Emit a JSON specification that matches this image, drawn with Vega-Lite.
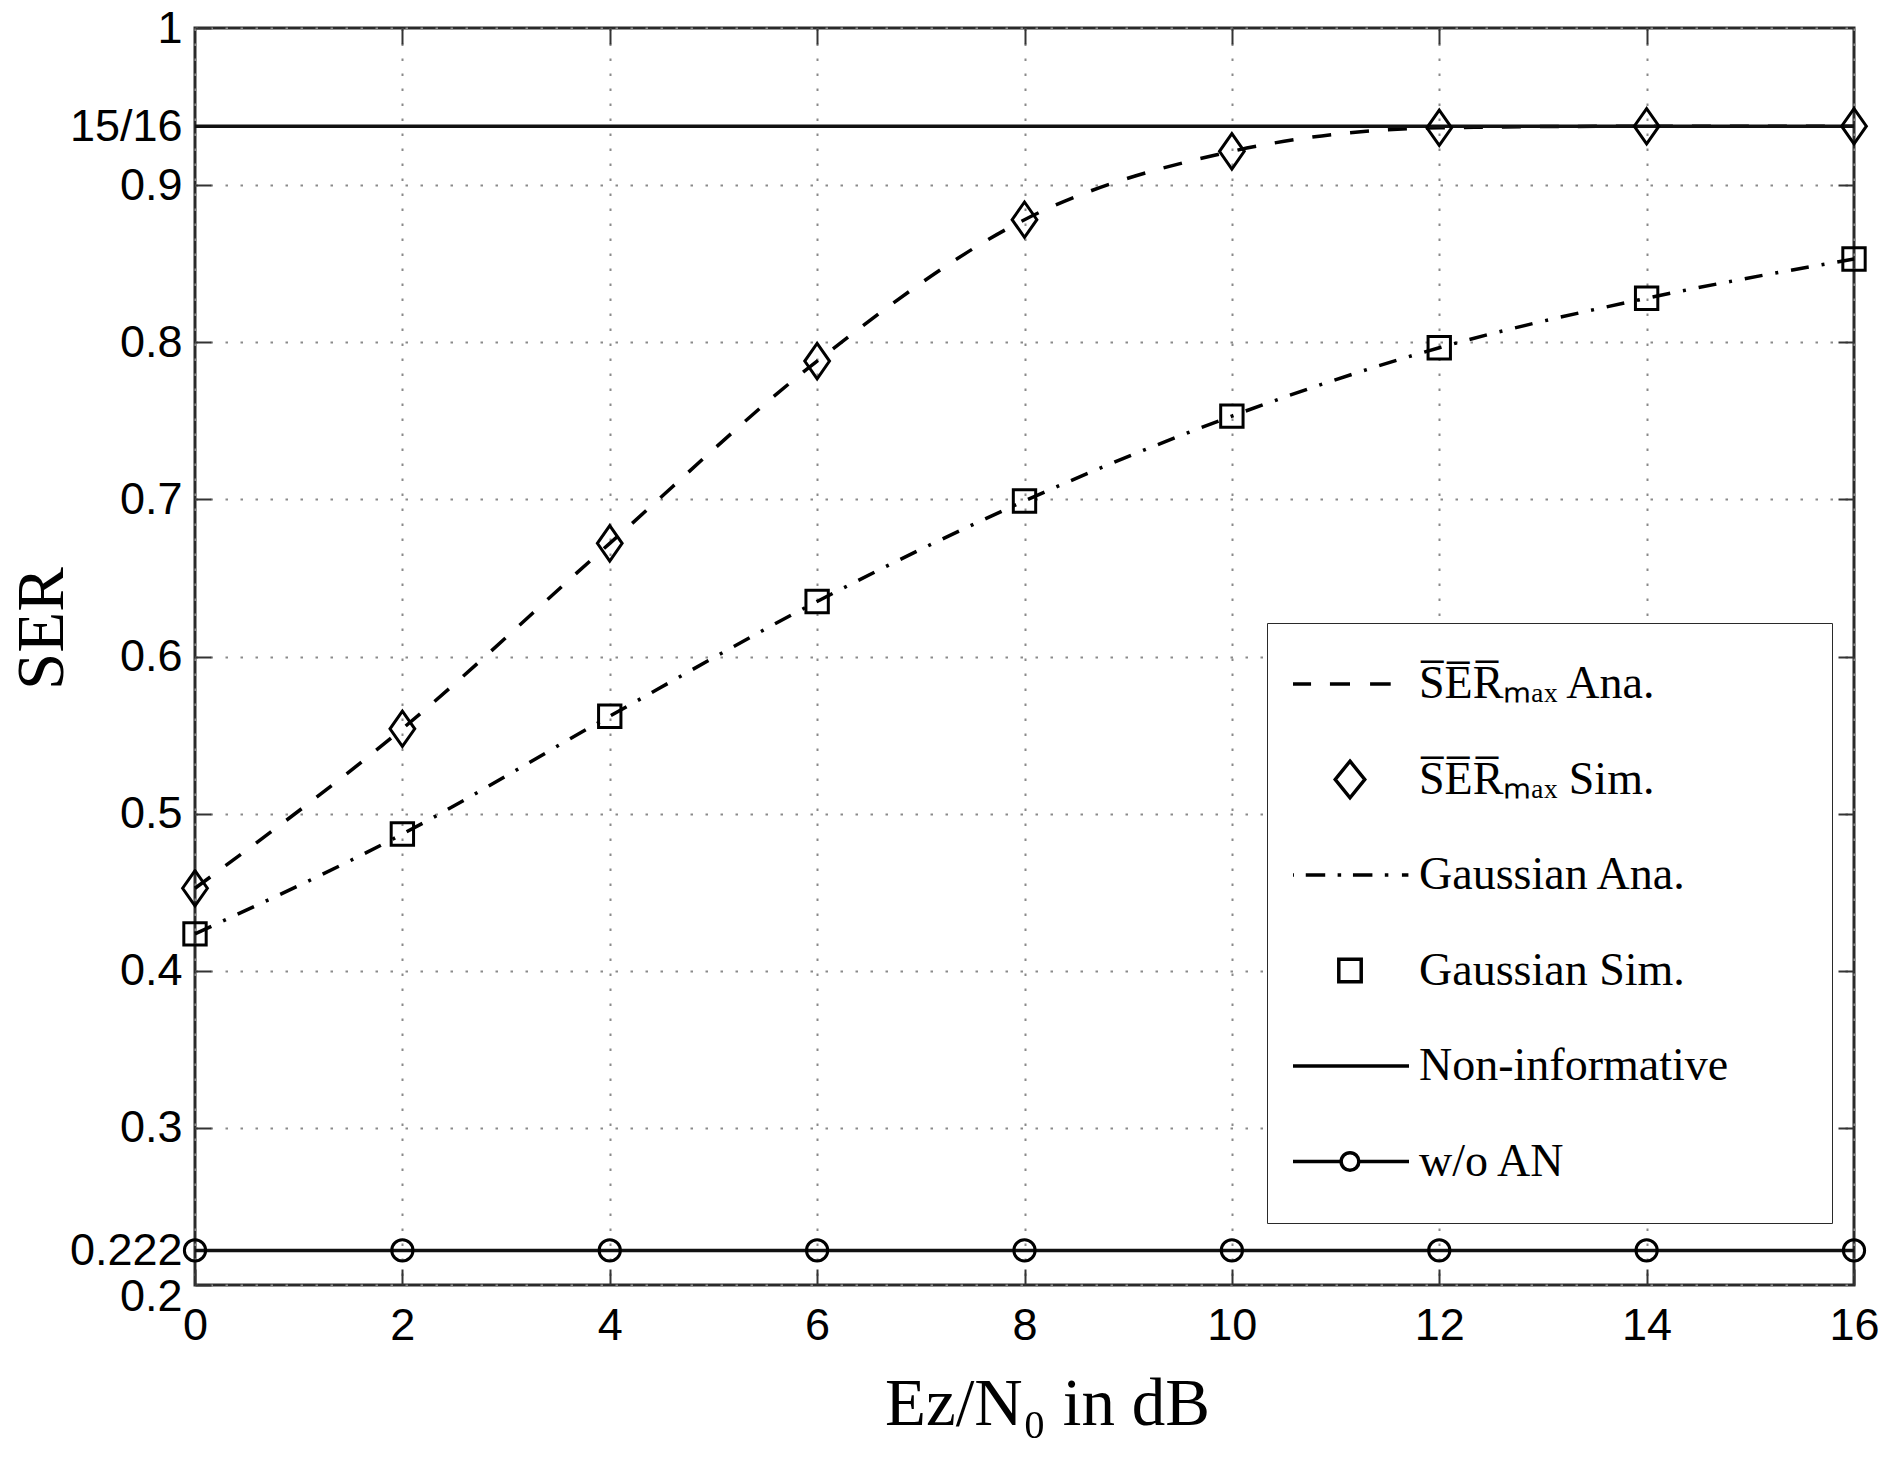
{
  "$schema": "https://vega.github.io/schema/vega-lite/v6.json",
  "width": 1659,
  "height": 1257,
  "autosize": "none",
  "padding": {"left": 195, "top": 28, "right": 29, "bottom": 188},
  "background": "white",
  "config": {
    "view": {"stroke": "#2a2a2a", "strokeWidth": 3},
    "axis": {
      "domain": false,
      "labelFont": "Liberation Sans",
      "labelFontSize": 45,
      "labelColor": "black",
      "labelFlush": false,
      "labelOverlap": false,
      "tickSize": -16,
      "tickColor": "#333333",
      "tickWidth": 2,
      "gridColor": "#8a8a8a",
      "gridDash": [2.5, 12.5],
      "gridWidth": 2,
      "titleFont": "Liberation Serif",
      "titleFontSize": 67,
      "titleFontWeight": "normal",
      "titleColor": "black"
    }
  },
  "datasets": {
    "ser": [
      {"snr": 0, "ser": 0.4525},
      {"snr": 2, "ser": 0.554},
      {"snr": 4, "ser": 0.672},
      {"snr": 6, "ser": 0.788},
      {"snr": 8, "ser": 0.878},
      {"snr": 10, "ser": 0.9215},
      {"snr": 12, "ser": 0.9365},
      {"snr": 14, "ser": 0.9375},
      {"snr": 16, "ser": 0.9375}
    ],
    "gauss": [
      {"snr": 0, "ser": 0.4235},
      {"snr": 2, "ser": 0.487},
      {"snr": 4, "ser": 0.562},
      {"snr": 6, "ser": 0.635},
      {"snr": 8, "ser": 0.699},
      {"snr": 10, "ser": 0.753},
      {"snr": 12, "ser": 0.7965},
      {"snr": 14, "ser": 0.828},
      {"snr": 16, "ser": 0.853}
    ],
    "noninf": [
      {"snr": 0, "ser": 0.9375},
      {"snr": 16, "ser": 0.9375}
    ],
    "woan": [
      {"snr": 0, "ser": 0.222},
      {"snr": 2, "ser": 0.222},
      {"snr": 4, "ser": 0.222},
      {"snr": 6, "ser": 0.222},
      {"snr": 8, "ser": 0.222},
      {"snr": 10, "ser": 0.222},
      {"snr": 12, "ser": 0.222},
      {"snr": 14, "ser": 0.222},
      {"snr": 16, "ser": 0.222}
    ],
    "legend": [
      {"label": "S\u0305E\u0305R\u0305\u2098\u2090\u2093 Ana."},
      {"label": "S\u0305E\u0305R\u0305\u2098\u2090\u2093 Sim."},
      {"label": "Gaussian Ana."},
      {"label": "Gaussian Sim."},
      {"label": "Non-informative"},
      {"label": "w/o AN"}
    ]
  },
  "resolve": {"axis": {"x": "independent", "y": "independent"}},
  "layer": [
    {
      "data": {"name": "ser"},
      "mark": {"type": "line", "color": "black", "strokeWidth": 3.5, "strokeDash": [19, 19], "interpolate": "monotone"},
      "encoding": {
        "x": {
          "field": "snr", "type": "quantitative",
          "scale": {"domain": [0, 16], "nice": false, "zero": false},
          "axis": {
            "orient": "bottom",
            "values": [0, 2, 4, 6, 8, 10, 12, 14, 16],
            "format": "d",
            "grid": true,
            "labelPadding": 34,
            "title": "Ez/N\u2080 in dB",
            "titleX": 852,
            "titleY": 139,
            "titleBaseline": "alphabetic",
            "titleAlign": "center"
          }
        },
        "y": {
          "field": "ser", "type": "quantitative",
          "scale": {"domain": [0.2, 1], "nice": false, "zero": false},
          "axis": {
            "orient": "left",
            "values": [0.2, 0.222, 0.3, 0.4, 0.5, 0.6, 0.7, 0.8, 0.9, 0.9375, 1],
            "labelExpr": "datum.value == 0.9375 ? '15/16' : (datum.value == 0.222 ? '0.222' : format(datum.value, '.1~f'))",
            "grid": true,
            "labelPadding": 29,
            "labelOffset": {"condition": {"test": "datum.value < 0.21", "value": 11}, "value": 0},
            "title": "SER",
            "titleX": -133,
            "titleY": 600,
            "titleAngle": -90,
            "titleBaseline": "alphabetic",
            "titleAlign": "center"
          }
        }
      }
    },
    {
      "data": {"name": "gauss"},
      "mark": {"type": "line", "color": "black", "strokeWidth": 3.5, "strokeDash": [18, 13, 3, 13], "interpolate": "monotone"},
      "encoding": {
        "x": {
          "field": "snr", "type": "quantitative",
          "axis": {"orient": "top", "values": [2, 4, 6, 8, 10, 12, 14], "labels": false, "title": null, "grid": false}
        },
        "y": {
          "field": "ser", "type": "quantitative",
          "axis": {"orient": "right", "values": [0.3, 0.4, 0.5, 0.6, 0.7, 0.8, 0.9], "labels": false, "title": null, "grid": false}
        }
      }
    },
    {
      "data": {"name": "noninf"},
      "mark": {"type": "line", "color": "#111111", "strokeWidth": 3.5},
      "encoding": {
        "x": {"field": "snr", "type": "quantitative", "axis": null},
        "y": {"field": "ser", "type": "quantitative", "axis": null}
      }
    },
    {
      "data": {"name": "woan"},
      "mark": {"type": "line", "color": "#111111", "strokeWidth": 3.5},
      "encoding": {
        "x": {"field": "snr", "type": "quantitative", "axis": null},
        "y": {"field": "ser", "type": "quantitative", "axis": null}
      }
    },
    {
      "data": {"name": "woan"},
      "mark": {"type": "point", "shape": "circle", "size": 450, "filled": false, "color": "black", "strokeWidth": 3, "opacity": 1},
      "encoding": {
        "x": {"field": "snr", "type": "quantitative", "axis": null},
        "y": {"field": "ser", "type": "quantitative", "axis": null}
      }
    },
    {
      "data": {"name": "ser"},
      "mark": {"type": "point", "shape": "M0,-1L0.7,0L0,1L-0.7,0Z", "size": 1250, "filled": false, "color": "black", "strokeWidth": 3, "opacity": 1},
      "encoding": {
        "x": {"field": "snr", "type": "quantitative", "axis": null},
        "y": {"field": "ser", "type": "quantitative", "axis": null}
      }
    },
    {
      "data": {"name": "gauss"},
      "mark": {"type": "point", "shape": "square", "size": 500, "filled": false, "color": "black", "strokeWidth": 3, "opacity": 1},
      "encoding": {
        "x": {"field": "snr", "type": "quantitative", "axis": null},
        "y": {"field": "ser", "type": "quantitative", "axis": null}
      }
    },
    {
      "data": {"name": "legend"},
      "mark": {"type": "point", "filled": false, "color": "black", "strokeWidth": 3.5, "opacity": 0},
      "encoding": {
        "shape": {
          "field": "label", "type": "nominal",
          "scale": {
            "domain": [
              "S\u0305E\u0305R\u0305\u2098\u2090\u2093 Ana.",
              "S\u0305E\u0305R\u0305\u2098\u2090\u2093 Sim.",
              "Gaussian Ana.",
              "Gaussian Sim.",
              "Non-informative",
              "w/o AN"
            ],
            "range": [
              "M-1,0H-0.66M-0.34,0H0M0.34,0H0.69",
              "M0,-0.31L0.25,0L0,0.31L-0.25,0Z",
              "M-1,0H-0.95M-0.75,0H-0.42M-0.21,0H-0.15M0.05,0H0.38M0.59,0H0.65M0.88,0H0.99",
              "M-0.19,-0.19H0.19V0.19H-0.19Z",
              "M-1,0H1",
              "M-1,0H-0.15M0.15,0H1M-0.15,0A0.15,0.15,0,1,1,0.15,0A0.15,0.15,0,1,1,-0.15,0"
            ]
          },
          "legend": {
            "title": null,
            "orient": "none",
            "legendX": 1072,
            "legendY": 595,
            "padding": 26,
            "clipHeight": 70,
            "rowPadding": 25.5,
            "symbolSize": 13924,
            "symbolOffset": -4,
            "symbolStrokeWidth": 3.5,
            "symbolStrokeColor": "black",
            "symbolFillColor": "transparent",
            "symbolOpacity": 1,
            "labelOffset": 8,
            "labelFont": "Liberation Serif",
            "labelFontSize": 46,
            "labelColor": "black",
            "labelLimit": 800,
            "labelExpr": "datum.label == 'Non-informative' ? datum.label + '\u2009\u2800\u2800' : datum.label",
            "strokeColor": "#2a2a2a",
            "fillColor": "white"
          }
        }
      }
    }
  ]
}
